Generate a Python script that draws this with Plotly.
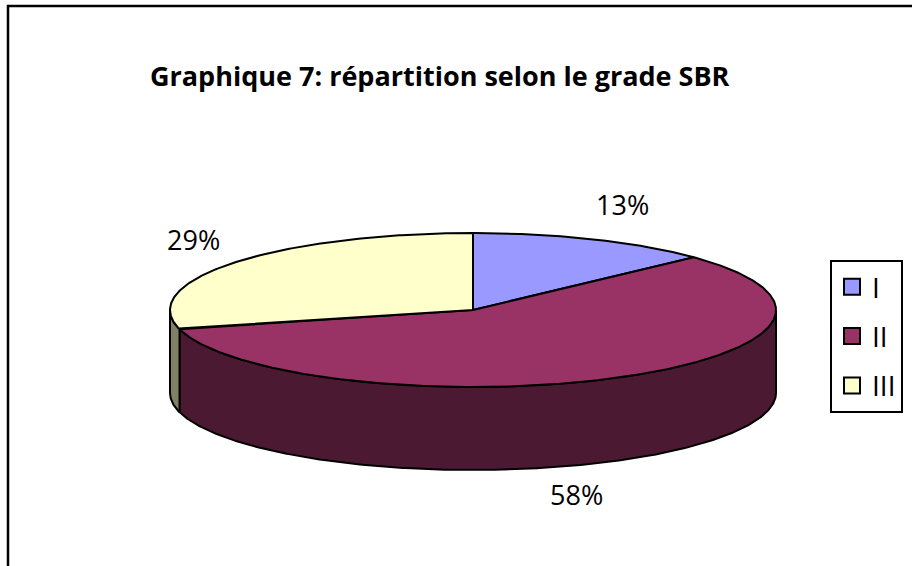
import numpy as np
import plotly.graph_objects as go

# ---- data ----
categories = ["I", "II", "III"]
values = [13, 58, 29]
pct_labels = ["13%", "58%", "29%"]
top_colors = ["#9999FF", "#993366", "#FFFFCC"]
side_colors = ["#4C4C80", "#4C1933", "#808066"]

title_text = "Graphique 7: répartition selon le grade SBR"

# ---- geometry of the 3D-style pie (pixel space) ----
W, H = 912, 566
cx, cy = 473, 310      # centre of top face
ra, rb = 303, 77       # ellipse radii
depth = 83             # thickness
FONT = "Open Sans"


def pt(theta_deg, dz=0.0):
    t = np.radians(theta_deg)
    return cx + ra * np.sin(t), cy - rb * np.cos(t) + dz


def arc(t0, t1, dz=0.0, n=None):
    if n is None:
        n = max(4, int(abs(t1 - t0) * 2))
    ts = np.linspace(t0, t1, n)
    xs, ys = pt(ts, dz)
    return list(xs), list(ys)


total = float(sum(values))
starts, ends = [], []
acc = 0.0
for v in values:
    starts.append(acc / total * 360.0)
    acc += v
    ends.append(acc / total * 360.0)

fig = go.Figure()

# side walls (front half: 90..270 deg clockwise from top)
for i in range(len(values)):
    s0 = max(starts[i], 90.0)
    s1 = min(ends[i], 270.0)
    if s1 <= s0:
        continue
    tx, ty = arc(s0, s1)
    bx, by = arc(s1, s0, dz=depth)
    fig.add_trace(go.Scatter(
        x=tx + bx + [tx[0]], y=ty + by + [ty[0]],
        mode="lines", fill="toself", fillcolor=side_colors[i],
        line=dict(color="black", width=2),
        hoverinfo="skip", showlegend=False))

# top faces
for i in range(len(values)):
    ax_, ay_ = arc(starts[i], ends[i])
    fig.add_trace(go.Scatter(
        x=[cx] + ax_ + [cx], y=[cy] + ay_ + [cy],
        mode="lines", fill="toself", fillcolor=top_colors[i],
        line=dict(color="black", width=2),
        hoverinfo="skip", showlegend=False))

# legend entries
for i, c in enumerate(categories):
    fig.add_trace(go.Scatter(
        x=[None], y=[None], mode="markers", name=c,
        legendgroup=c,
        marker=dict(symbol="square", size=20, color=top_colors[i],
                    line=dict(color="black", width=2))))

# percentage labels placed around slice midpoints
label_nudge = [(5, 0), (-72, 0), (8, 0)]
annotations = []
for i, lab in enumerate(pct_labels):
    mid = (starts[i] + ends[i]) / 2.0
    t = np.radians(mid)
    lx = cx + ra * 1.2 * np.sin(t) + label_nudge[i][0]
    ly = cy - rb * 1.5 * np.cos(t) + (depth if np.cos(t) < 0 else 0) + label_nudge[i][1]
    annotations.append(dict(x=lx, y=ly, xref="x", yref="y", text=lab,
                            showarrow=False,
                            font=dict(family=FONT, size=27, color="black")))

annotations.append(dict(x=440, y=75, xref="x", yref="y", text="<b>" + title_text + "</b>",
                        showarrow=False,
                        font=dict(family=FONT, size=27, color="black")))

fig.update_layout(
    width=W, height=H,
    margin=dict(l=0, r=0, t=0, b=0),
    paper_bgcolor="white", plot_bgcolor="white",
    xaxis=dict(range=[0, W], visible=False, fixedrange=True),
    yaxis=dict(range=[H, 0], visible=False, fixedrange=True),
    showlegend=True,
    legend=dict(x=830 / W, y=1 - 260 / H, xanchor="left", yanchor="top",
                bordercolor="black", borderwidth=2, bgcolor="white",
                font=dict(family=FONT, size=28, color="black"),
                tracegroupgap=10, itemwidth=30),
    annotations=annotations,
    shapes=[dict(type="rect", xref="paper", yref="paper",
                 x0=8 / W, y0=1 - 6 / H, x1=1.2, y1=-0.2,
                 line=dict(color="black", width=2.5), fillcolor="rgba(0,0,0,0)",
                 layer="below")],
)

fig.write_html("out.html", config={"displayModeBar": False},
               post_script="document.body.style.margin='0';document.body.style.overflow='hidden';")
